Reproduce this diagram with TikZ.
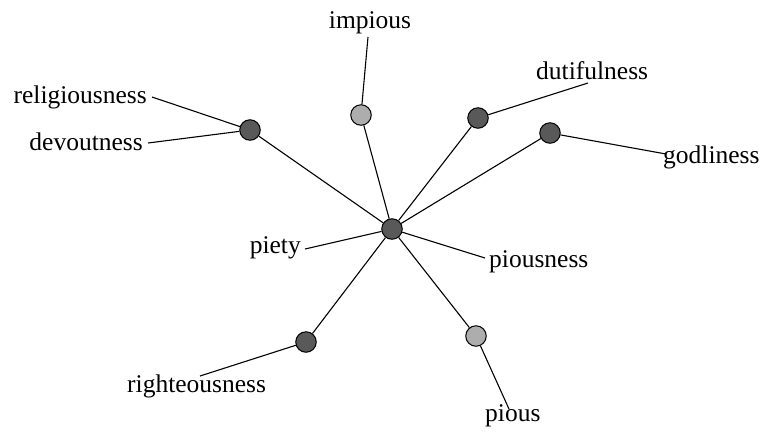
\documentclass[tikz,border=0pt]{standalone}
\usepackage{fontspec}
\setmainfont{Liberation Serif}
\begin{document}
\begin{tikzpicture}[x=1pt,y=-1pt,
  dot/.style={circle,draw=black,line width=1pt,minimum size=20.5pt,inner sep=0pt},
  darkdot/.style={dot,fill=black!65},
  lightdot/.style={dot,fill=black!32},
  lbl/.style={inner sep=0pt,font=\fontsize{25.5}{30}\selectfont},
  edge/.style={line width=1.1pt}]
\useasboundingbox (0,0) rectangle (771,432);
% nodes
\node[darkdot] (c) at (392,229) {};
\node[darkdot] (nrel) at (250,130) {};
\node[lightdot] (nimp) at (361,115) {};
\node[darkdot] (ndut) at (478,118) {};
\node[darkdot] (ngod) at (550,133) {};
\node[darkdot] (nrig) at (306,342) {};
\node[lightdot] (npio) at (476,336) {};
% labels
\node[lbl,anchor=base east] (trel) at (147,103) {religiousness};
\node[lbl,anchor=base east] (tdev) at (143,150) {devoutness};
\node[lbl,anchor=base] (timp) at (370,28) {impious};
\node[lbl,anchor=base west] (tdut) at (536,79) {dutifulness};
\node[lbl,anchor=base west] (tgod) at (663,163) {godliness};
\node[lbl,anchor=base east] (tpiety) at (301,253) {piety};
\node[lbl,anchor=base west] (tpiousness) at (489,267) {piousness};
\node[lbl,anchor=base west] (trig) at (127,392) {righteousness};
\node[lbl,anchor=base west] (tpio) at (485,421) {pious};
% free ends of label lines
\coordinate (erel) at (152,97);
\coordinate (edev) at (148,143);
\coordinate (eimp) at (368,37);
\coordinate (edut) at (588,83);
\coordinate (egod) at (666,154);
\coordinate (epiety) at (305,249);
\coordinate (epiousness) at (485,258);
\coordinate (erig) at (200,376);
\coordinate (epio) at (509,409);
% connectors
\draw[edge] (c) -- (nrel);
\draw[edge] (c) -- (nimp);
\draw[edge] (c) -- (ndut);
\draw[edge] (c) -- (ngod);
\draw[edge] (c) -- (nrig);
\draw[edge] (c) -- (npio);
\draw[edge] (c) -- (epiety);
\draw[edge] (c) -- (epiousness);
\draw[edge] (nrel) -- (erel);
\draw[edge] (nrel) -- (edev);
\draw[edge] (nimp) -- (eimp);
\draw[edge] (ndut) -- (edut);
\draw[edge] (ngod) -- (egod);
\draw[edge] (nrig) -- (erig);
\draw[edge] (npio) -- (epio);
\end{tikzpicture}
\end{document}
